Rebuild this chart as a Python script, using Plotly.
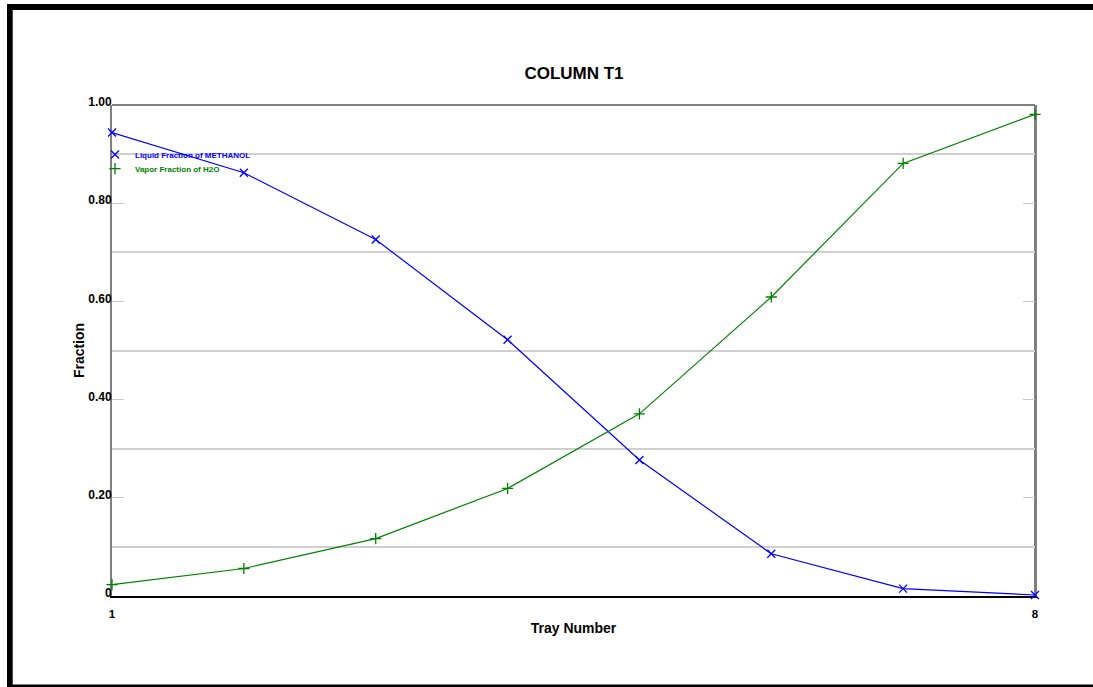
import plotly.graph_objects as go

# ---- data ----
trays = [1, 2, 3, 4, 5, 6, 7, 8]
liquid_methanol = [0.944, 0.862, 0.726, 0.522, 0.277, 0.086, 0.015, 0.002]
vapor_h2o = [0.023, 0.056, 0.117, 0.219, 0.371, 0.609, 0.881, 0.981]
series_names = ["Liquid Fraction of METHANOL", "Vapor Fraction of H2O"]
y_tickvals = [0, 0.2, 0.4, 0.6, 0.8, 1.0]
y_ticktext = ["0", "0.20", "0.40", "0.60", "0.80", "1.00"]
x_tickvals = [1, 8]
x_ticktext = ["1", "8"]

W, H = 1093, 687
ML, MR, MT, MB = 112, 58, 105, 91
PW, PH = W - ML - MR, H - MT - MB


def fx(px):
    return (px - ML) / PW


def fy(py):
    return (H - MB - py) / PH


FONT = "Arial, Liberation Sans, sans-serif"
BLUE = "#0000ff"
GREEN = "#008000"

fig = go.Figure()

fig.add_trace(go.Scatter(
    x=trays, y=liquid_methanol, mode="lines+markers", showlegend=False,
    cliponaxis=False,
    line=dict(color=BLUE, width=1.2),
    marker=dict(symbol="x-thin", size=8, line=dict(color=BLUE, width=1.3)),
))
fig.add_trace(go.Scatter(
    x=trays, y=vapor_h2o, mode="lines+markers", showlegend=False,
    cliponaxis=False,
    line=dict(color=GREEN, width=1.2),
    marker=dict(symbol="cross-thin", size=8, line=dict(color=GREEN, width=1.3)),
))
# legend-only entries (marker only), each in its own legend box
fig.add_trace(go.Scatter(
    x=[None], y=[None], mode="markers", legend="legend",
    name=f'<span style="color:{BLUE}">{series_names[0]}</span>',
    marker=dict(symbol="x-thin", size=8, line=dict(color=BLUE, width=1.3)),
))
fig.add_trace(go.Scatter(
    x=[None], y=[None], mode="markers", legend="legend2",
    name=f'<span style="color:{GREEN}">{series_names[1]}</span>',
    marker=dict(symbol="cross-thin", size=8, line=dict(color=GREEN, width=1.3)),
))

shapes = []
# outer frame (thick black)
shapes.append(dict(type="rect", xref="paper", yref="paper",
                   x0=fx(7), x1=fx(12.7), y0=fy(4), y1=fy(H + 5),
                   fillcolor="black", line=dict(width=0), layer="above"))
shapes.append(dict(type="rect", xref="paper", yref="paper",
                   x0=fx(7), x1=fx(W + 5), y0=fy(4), y1=fy(10),
                   fillcolor="black", line=dict(width=0), layer="above"))
shapes.append(dict(type="rect", xref="paper", yref="paper",
                   x0=fx(7), x1=fx(W + 5), y0=fy(684.5), y1=fy(H + 5),
                   fillcolor="black", line=dict(width=0), layer="above"))
# plot top border (gray) and right border (dark gray)
shapes.append(dict(type="line", xref="paper", yref="paper",
                   x0=0, x1=1, y0=1, y1=1,
                   line=dict(color="#808080", width=2.2), layer="below"))
shapes.append(dict(type="line", xref="paper", yref="paper",
                   x0=1, x1=1, y0=0, y1=1,
                   line=dict(color="#505050", width=1.5), layer="below"))

legend_common = dict(xanchor="left", yanchor="middle",
                     bgcolor="rgba(0,0,0,0)", borderwidth=0,
                     font=dict(size=8, family=FONT, weight="bold"),
                     itemwidth=30)

fig.update_layout(
    width=W, height=H,
    margin=dict(l=ML, r=MR, t=MT, b=MB, autoexpand=False),
    paper_bgcolor="white", plot_bgcolor="white",
    font=dict(family=FONT, color="black"),
    title=dict(text="<b>COLUMN T1</b>", x=fx(574), xref="paper", xanchor="center",
               y=1 - 73 / H, yref="container", yanchor="middle",
               font=dict(size=17, family=FONT, color="black")),
    showlegend=True,
    legend=dict(x=fx(95), y=fy(154.5), **legend_common),
    legend2=dict(x=fx(95), y=fy(168.7), **legend_common),
    shapes=shapes,
)

fig.update_xaxes(
    range=[1, 8], tickmode="array", tickvals=x_tickvals, ticktext=x_ticktext,
    showgrid=False, zeroline=False, ticks="", ticklabelstandoff=6,
    showline=True, linecolor="black", linewidth=1.6, mirror=False,
    layer="below traces",
    tickfont=dict(size=11.5, family=FONT, weight="bold", color="black"),
    title=dict(text="<b>Tray Number</b>", standoff=5,
               font=dict(size=14, family=FONT, color="black")),
)
fig.update_yaxes(
    range=[0, 1], tickmode="array", tickvals=y_tickvals, ticktext=y_ticktext,
    showgrid=False, zeroline=False,
    ticks="inside", ticklen=12, tickwidth=1, tickcolor="#c8c8c8",
    showline=True, linecolor="#808080", linewidth=2, mirror="ticks",
    layer="below traces",
    ticklabelshift=-3, ticklabelstandoff=-4,
    tickfont=dict(size=12, family=FONT, weight="bold", color="black"),
    minor=dict(tick0=0.1, dtick=0.2, showgrid=True, gridcolor="#cfcfcf",
               gridwidth=1.5, ticks=""),
    title=dict(text="<b>Fraction</b>", standoff=0,
               font=dict(size=14, family=FONT, color="black")),
)

fig.write_html("out.html", config={"displayModeBar": False},
               post_script="document.body.style.margin='0';")
